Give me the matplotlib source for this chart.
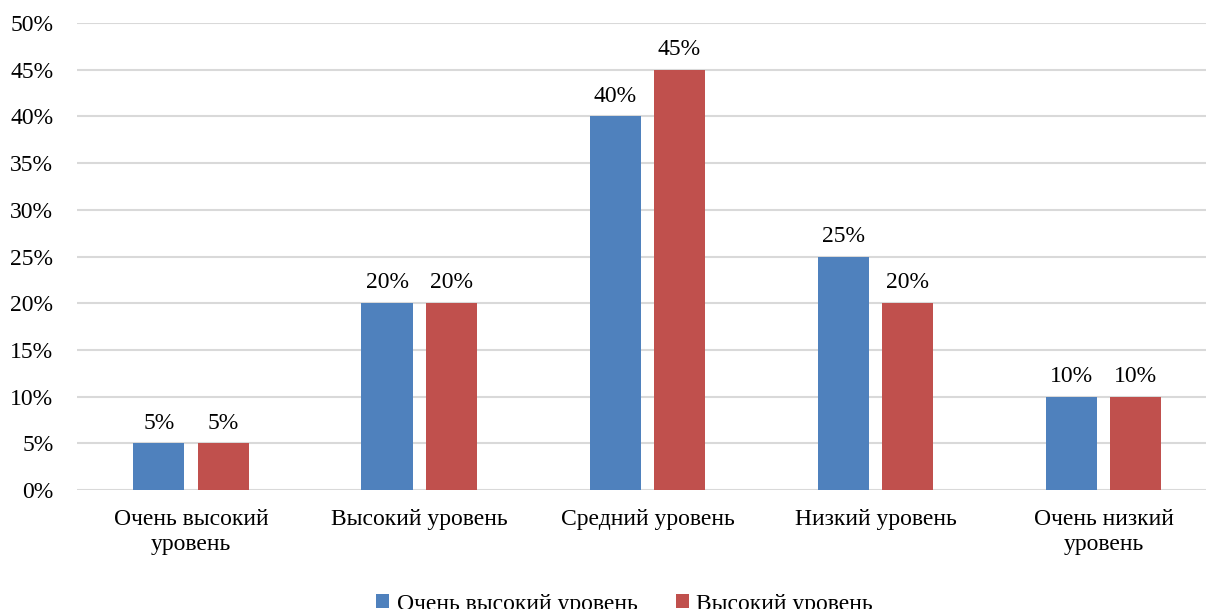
import matplotlib.pyplot as plt
import numpy as np
from matplotlib.ticker import MultipleLocator, FuncFormatter

plt.rcParams['font.family'] = ['Liberation Serif', 'DejaVu Serif']

categories = ["Очень высокий\nуровень", "Высокий уровень", "Средний уровень",
              "Низкий уровень", "Очень низкий\nуровень"]
series_names = ["Очень высокий уровень", "Высокий уровень"]
very_high = [5, 20, 40, 25, 10]
high = [5, 20, 45, 20, 10]

colors = ["#4F81BD", "#C0504D"]
fs = 17

fig = plt.figure(figsize=(12.06, 6.09), dpi=100)
# plot area runs slightly past the right edge of the canvas
ax = fig.add_axes([0.0638, 0.1954, 0.946, 0.7668])

x = np.arange(len(categories))
w = 0.224
off = 0.141

for vals, name, c, sign in zip([very_high, high], series_names, colors, [-1, 1]):
    bars = ax.bar(x + sign * off, vals, width=w, color=c, label=name, zorder=3)
    for b, v in zip(bars, vals):
        ax.annotate(f"{v}%", (b.get_x() + b.get_width() / 2, v),
                    xytext=(0, 7), textcoords="offset points",
                    ha="center", va="bottom", fontsize=fs)

ax.set_xlim(-0.5, len(categories) - 0.5)
ax.set_ylim(0, 50)
ax.yaxis.set_major_locator(MultipleLocator(5))
ax.yaxis.set_major_formatter(FuncFormatter(lambda v, _: f"{v:.0f}%"))
ax.grid(axis="y", color="#D9D9D9", linewidth=1.5, zorder=0)
ax.set_axisbelow(True)
for s in ax.spines.values():
    s.set_visible(False)
ax.tick_params(axis="both", length=0, labelsize=fs)
ax.tick_params(axis="y", pad=17)
ax.tick_params(axis="x", pad=14)
ax.set_xticks(x)
ax.set_xticklabels(categories, linespacing=1.2)

fig.legend(loc="center", bbox_to_anchor=(0.518, 0.008), ncol=2, frameon=False,
           fontsize=fs, handlelength=0.55, handleheight=0.55, handletextpad=0.3,
           columnspacing=1.65)

fig.savefig("out.png", dpi=100)
